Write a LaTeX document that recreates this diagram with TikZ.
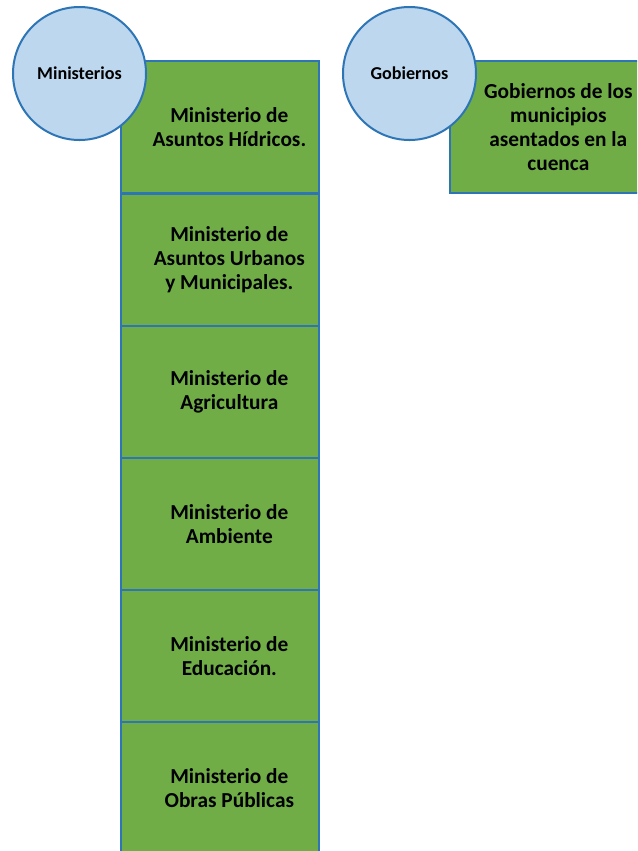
\documentclass[tikz,border=0pt]{standalone}
\usepackage{fontspec}
\setmainfont{Carlito}
\definecolor{boxgreen}{HTML}{70AD47}
\definecolor{edgeblue}{HTML}{2E75B6}
\definecolor{circfill}{HTML}{BDD7EE}
\tikzset{
  cell/.style={draw=edgeblue, line width=1.5pt, fill=boxgreen, inner sep=0pt,
    minimum width=148.5pt, minimum height=99pt, anchor=north west},
  celltext/.style={align=center, font=\bfseries\fontsize{16}{18}\selectfont, inner sep=0pt},
  bubble/.style={circle, draw=edgeblue, line width=1.5pt, fill=circfill, inner sep=0pt,
    minimum size=99.75pt, font=\bfseries\fontsize{13.6}{16}\selectfont}
}
\begin{document}
\begin{tikzpicture}[x=0.75pt,y=-0.75pt]
\useasboundingbox (0,0) rectangle (637,851);
\clip (0,0) rectangle (637,851);
% ministerios column
\node[cell] (m1) at (120,60) {};
\node[cell] (m2) at (120,192.5) {};
\node[cell] (m3) at (120,325) {};
\node[cell] (m4) at (120,457) {};
\node[cell] (m5) at (120,589) {};
\node[cell] (m6) at (120,721) {};
\node[celltext] (t1) at ([xshift=7pt]m1.center) {Ministerio de\\Asuntos Hídricos.};
\node[celltext] (t2) at ([xshift=7pt]m2.center) {Ministerio de\\Asuntos Urbanos\\y Municipales.};
\node[celltext] (t3) at ([xshift=7pt]m3.center) {Ministerio de\\Agricultura};
\node[celltext] (t4) at ([xshift=7pt]m4.center) {Ministerio de\\Ambiente};
\node[celltext] (t5) at ([xshift=7pt]m5.center) {Ministerio de\\Educación.};
\node[celltext] (t6) at ([xshift=7pt]m6.center) {Ministerio de\\Obras Públicas};
% gobiernos
\node[cell] (g1) at (449,60) {};
\node[celltext] (tg) at ([xshift=7pt]g1.center) {Gobiernos de los\\municipios\\asentados en la\\cuenca};
% circles
\node[bubble] (c1) at (79.5,73.5) {Ministerios};
\node[bubble] (c2) at (409.5,73.5) {Gobiernos};
\end{tikzpicture}
\end{document}
